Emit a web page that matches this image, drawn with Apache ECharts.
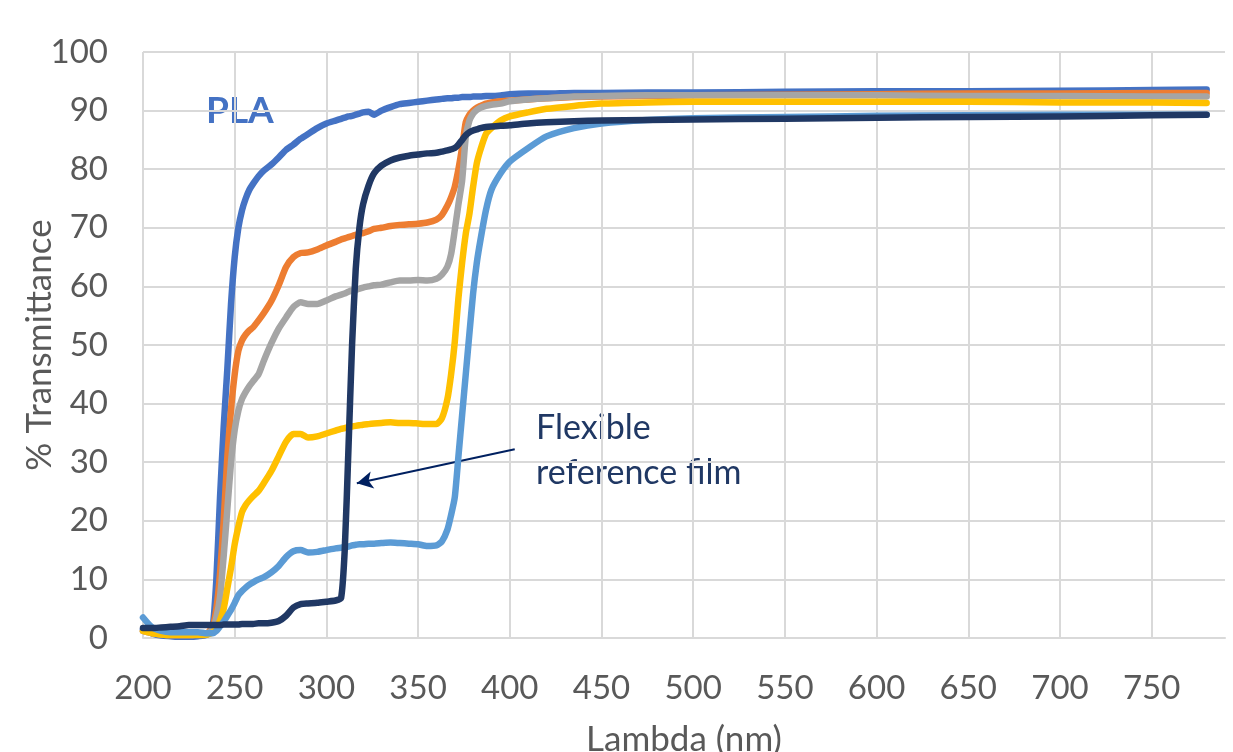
<!DOCTYPE html>
<html>
<head>
<meta charset="utf-8">
<script src="https://cdn.jsdelivr.net/npm/echarts@6/dist/echarts.min.js"></script>
<style>
html,body{margin:0;padding:0;background:#fff;}
#chart{width:1233px;height:752px;}
</style>
</head>
<body>
<div id="chart"></div>
<script>
// Wavelength (nm)
var lambda = [200,205,210,215,220,225,230,235,238,240,242,244,246,248,250,252,254,256,258,260,263,266,270,274,278,282,286,290,295,300,305,308,310,312,314,316,318,320,323,326,330,335,340,345,350,355,360,363,366,368,370,372,374,376,378,380,382,384,387,390,395,400,410,420,435,450,475,500,550,600,650,700,750,780];

var pla = [1.5,0.8,0.4,0.3,0.2,0.2,0.3,0.6,2,10,24,36,46,57,65,70,73,75,76.5,77.5,78.8,79.8,80.8,82,83.3,84.2,85.2,86,87,87.8,88.3,88.6,88.8,89,89.1,89.3,89.5,89.7,89.8,89.3,90,90.6,91.1,91.3,91.5,91.7,91.9,92,92.1,92.1,92.2,92.2,92.3,92.3,92.3,92.4,92.4,92.4,92.5,92.5,92.6,92.8,92.9,92.9,93,93,93.1,93.1,93.2,93.3,93.3,93.4,93.5,93.6];

var orange = [1.2,0.8,0.6,0.5,0.5,0.5,0.6,0.8,2,5,11,20,31,39,45,49,50.8,51.8,52.5,53,54.2,55.5,57.5,60.2,63.3,65,65.7,65.8,66.3,67,67.6,68,68.2,68.4,68.6,68.8,69,69.1,69.4,69.8,70,70.3,70.5,70.6,70.7,70.9,71.4,72.2,73.8,75.2,77,80,83.7,88,89.3,90,90.5,90.8,91.2,91.4,91.6,91.7,91.9,92.1,92.3,92.4,92.5,92.6,92.7,92.8,92.9,92.9,93,93];

var grey = [1.2,0.8,0.6,0.5,0.5,0.5,0.6,0.8,1.5,3.5,7,14,22,30,35.5,38.8,40.8,42,43,43.8,45,47.4,50.3,52.8,54.7,56.5,57.3,57,57,57.6,58.3,58.6,58.8,59.1,59.3,59.4,59.6,59.8,60,60.2,60.3,60.7,61,61,61.1,61,61.3,62,63.4,65.5,69.6,74,78,85.5,88.3,89.5,90.1,90.5,90.8,91,91.2,91.6,91.9,92.1,92.4,92.5,92.6,92.6,92.6,92.6,92.5,92.5,92.4,92.4];

var yellow = [1.2,0.8,0.6,0.5,0.5,0.5,0.5,0.6,1,1.6,3,5,8.5,12,16,19,21.5,22.7,23.5,24.2,25.1,26.5,28.5,31,33.5,34.8,34.8,34.2,34.4,34.9,35.4,35.7,35.8,36,36.1,36.2,36.3,36.4,36.5,36.6,36.7,36.8,36.7,36.7,36.6,36.5,36.5,37.5,40.8,45,50.5,58,64,69,72.4,77,81,83.3,86,87,88.3,89,89.7,90.3,90.8,91.2,91.4,91.5,91.5,91.5,91.5,91.4,91.4,91.3];

var lightBlue = [3.5,1.8,1.2,1,1,1,1,0.8,0.8,1.2,2,2.8,3.8,4.8,6,7.3,8,8.6,9.1,9.5,10,10.4,11.2,12.3,13.8,14.8,15,14.6,14.7,15,15.3,15.4,15.5,15.6,15.8,15.9,16,16,16.1,16.1,16.2,16.3,16.2,16.1,16,15.7,15.8,16.5,18.5,21,24,31,38,45,52,58.8,64,67.9,73,76.5,79.3,81.3,83.6,85.6,87,87.8,88.4,88.7,88.9,89.1,89.2,89.3,89.3,89.3];

var flexible = [1.7,1.7,1.8,1.9,2,2.2,2.2,2.2,2.2,2.2,2.2,2.3,2.3,2.3,2.3,2.3,2.4,2.4,2.4,2.4,2.5,2.5,2.6,2.9,3.8,5.2,5.8,5.9,6,6.2,6.4,6.8,15,32,50,63,70,74,77.2,79.3,80.6,81.5,82,82.3,82.5,82.7,82.8,83,83.2,83.4,83.6,84.2,85,85.8,86.3,86.6,86.8,87,87.2,87.3,87.4,87.5,87.8,88,88.2,88.3,88.4,88.5,88.6,88.8,88.9,89,89.2,89.3];

var xTicks = [200,250,300,350,400,450,500,550,600,650,700,750];
var yTicks = [0,10,20,30,40,50,60,70,80,90,100];

var seriesDefs = [
  {name:'PLA', data:pla, color:'#4472C4'},
  {name:'Sample 2', data:orange, color:'#ED7D31'},
  {name:'Sample 3', data:grey, color:'#A5A5A5'},
  {name:'Sample 4', data:yellow, color:'#FFC000'},
  {name:'Sample 5', data:lightBlue, color:'#5B9BD5'},
  {name:'Flexible reference film', data:flexible, color:'#203864'}
];

var FONT = 'Lato, "Open Sans", sans-serif';

var series = seriesDefs.map(function(s, i){
  var o = {
    name: s.name,
    type: 'line',
    data: lambda.map(function(x, k){ return [x, s.data[k]]; }),
    showSymbol: false,
    smooth: 0.2,
    z: 2 + i,
    lineStyle: {color: s.color, width: 6.5, cap: 'round', join: 'round'},
    itemStyle: {color: s.color},
    animation: false
  };
  if (i === 5) {
    o.markLine = {
      silent: true,
      symbol: ['none', 'arrow'],
      symbolSize: [13, 16],
      label: {show: false},
      lineStyle: {color: '#002060', width: 2, type: 'solid'},
      data: [[{coord: [402.7, 32.2]}, {coord: [316.6, 26.4]}]],
      animation: false
    };
  }
  return o;
});

var chart = echarts.init(document.getElementById('chart'), null, {renderer: 'canvas'});
chart.setOption({
  backgroundColor: '#ffffff',
  animation: false,
  grid: {left: 143, right: 8, top: 52, bottom: 114, containLabel: false, outerBoundsMode: 'none'},
  xAxis: {
    type: 'value',
    min: xTicks[0],
    max: 790,
    interval: 50,
    name: 'Lambda (nm)',
    nameLocation: 'middle',
    nameGap: 84,
    nameTextStyle: {fontFamily: FONT, fontSize: 35, color: '#595959'},
    axisLine: {show: true, lineStyle: {color: '#D9D9D9', width: 2}},
    axisTick: {show: false},
    axisLabel: {
      fontFamily: FONT, fontSize: 33, color: '#595959', margin: 34,
      showMaxLabel: false
    },
    splitLine: {show: true, showMaxLine: false, lineStyle: {color: '#D9D9D9', width: 2}}
  },
  yAxis: {
    type: 'value',
    min: yTicks[0],
    max: yTicks[yTicks.length - 1],
    interval: 10,
    name: '% Transmittance',
    nameLocation: 'middle',
    nameGap: 86,
    nameMoveOverlap: false,
    nameTextStyle: {fontFamily: FONT, fontSize: 35, color: '#595959'},
    axisLine: {show: false},
    axisTick: {show: false},
    axisLabel: {fontFamily: FONT, fontSize: 33, color: '#595959', margin: 35},
    splitLine: {show: true, lineStyle: {color: '#D9D9D9', width: 2}}
  },
  graphic: [
    {type: 'text', left: 206, top: 93, style: {text: 'PLA', font: 'bold 37px ' + FONT, fill: '#4472C4'}},
    {type: 'text', left: 536, top: 406, style: {text: 'Flexible\nreference film', font: '34px ' + FONT, fill: '#203864', lineHeight: 45}}
  ],
  series: series
});
</script>
</body>
</html>
